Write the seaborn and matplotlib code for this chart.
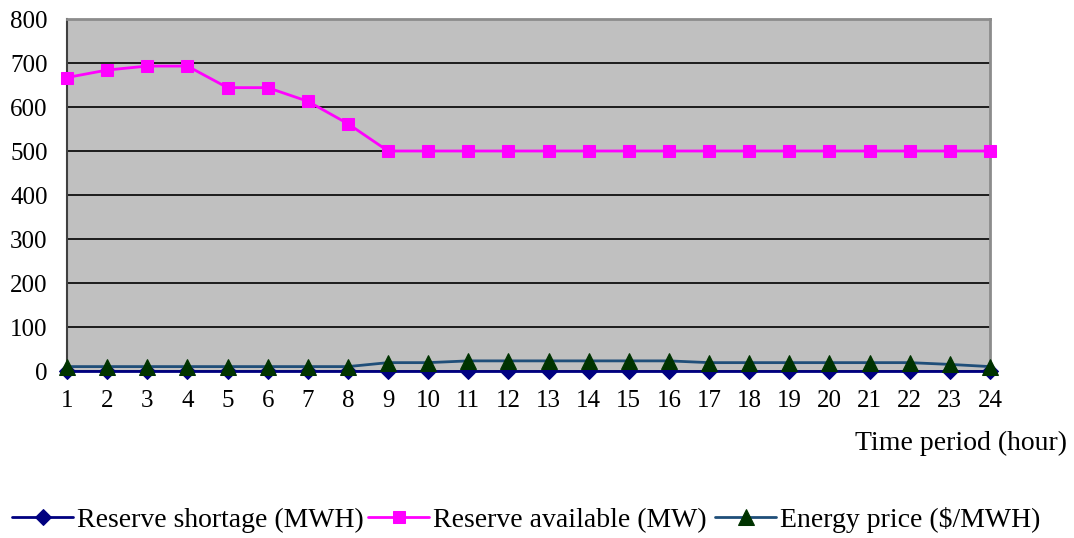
import matplotlib
matplotlib.use("Agg")
import matplotlib.pyplot as plt
import seaborn as sns
import pandas as pd

hours = list(range(1, 25))
reserve_shortage = [0] * 24
reserve_available = [667, 684, 693, 693, 644, 644, 613, 562, 500, 500, 500, 500,
                     500, 500, 500, 500, 500, 500, 500, 500, 500, 500, 500, 500]
energy_price = [10, 10, 10, 10, 10, 10, 10, 10, 19, 19, 23, 23,
                23, 23, 23, 23, 19, 19, 19, 19, 19, 19, 15, 10]
y_ticks = [0, 100, 200, 300, 400, 500, 600, 700, 800]

sns.set_theme(style="white")
plt.rcParams['font.family'] = ['Liberation Serif', 'DejaVu Serif']
plt.rcParams['text.color'] = 'black'
plt.rcParams['xtick.color'] = 'black'
plt.rcParams['ytick.color'] = 'black'

fig = plt.figure(figsize=(10.74, 5.38), dpi=100)
ax = fig.add_axes([67/1074, 1 - 371/538, (990-67)/1074, (371-19)/538])
ax.set_facecolor('#C0C0C0')

sns.lineplot(x=hours, y=reserve_shortage, ax=ax, color='#000080', marker='D',
             markersize=8, markeredgecolor='#000080', linewidth=2,
             label='Reserve shortage (MWH)', zorder=3, clip_on=False)
sns.lineplot(x=hours, y=reserve_available, ax=ax, color='#FF00FF', marker='s',
             markersize=9, markeredgecolor='#FF00FF', linewidth=2,
             label='Reserve available (MW)', zorder=4, clip_on=False)
sns.lineplot(x=hours, y=energy_price, ax=ax, color='#1F4E79', marker='^',
             markersize=11, markerfacecolor='#003300', markeredgecolor='#003300',
             linewidth=2, label='Energy price ($/MWH)', zorder=5, clip_on=False)

ax.set_xlim(1, 24)
ax.set_ylim(0, 800)
ax.set_yticks(y_ticks)
ax.set_xticks(hours)
ax.set_xticklabels([str(h) for h in hours])
ax.yaxis.grid(True, color='black', linewidth=1.2)
ax.xaxis.grid(False)
ax.set_axisbelow(True)
ax.tick_params(axis='y', length=0, pad=14, labelsize=18, labelcolor='black')
ax.tick_params(axis='x', length=0, pad=14, labelsize=18, labelcolor='black')
for side in ['top', 'right']:
    ax.spines[side].set_color('#8C8C8C')
    ax.spines[side].set_linewidth(2)
ax.spines['left'].set_color('#404040')
ax.spines['left'].set_linewidth(1.5)
ax.spines['bottom'].set_color('#404040')
ax.set_xlabel('')
ax.set_ylabel('')

fig.text(961/1074, 1 - 443/538, 'Time period (hour)', ha='center', va='center',
         fontsize=20, color='black')

handles, labels = ax.get_legend_handles_labels()
ax.legend_.remove()
x_starts = [12, 368, 715]
for h, l, xs in zip(handles, labels, x_starts):
    fig.legend([h], [l], loc='center left', bbox_to_anchor=(xs/1074, 1 - 520/538),
               frameon=False, fontsize=20, handlelength=2.2, handletextpad=0.15,
               borderpad=0, borderaxespad=0, labelcolor='black')

fig.savefig('out.png', dpi=100)
